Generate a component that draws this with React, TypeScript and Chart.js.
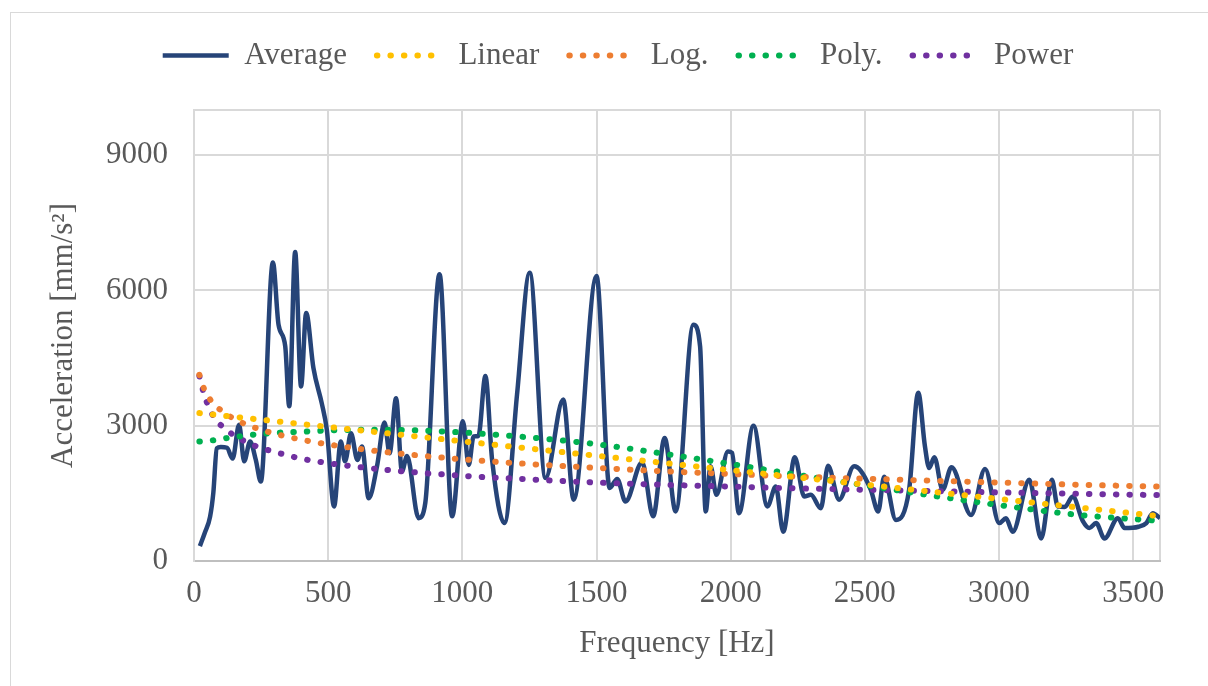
import { useEffect, useRef } from 'react';
import { Chart, registerables } from 'chart.js';

Chart.register(...registerables);

// Average spectrum (Hz, mm/s²)
const avgFreq = [22, 40, 60, 72, 85, 100, 123, 144, 168, 187, 209, 230, 249, 294, 315, 340, 355, 377, 399, 418, 445, 476, 495, 522, 547, 563, 585, 609, 626, 651, 682, 710, 729, 753, 775, 794, 837, 862, 915, 962, 1002, 1024, 1042, 1060, 1086, 1111, 1157, 1204, 1251, 1310, 1376, 1415, 1500, 1549, 1577, 1608, 1670, 1711, 1754, 1795, 1861, 1886, 1907, 1925, 1947, 1990, 2005, 2031, 2085, 2137, 2168, 2196, 2239, 2274, 2299, 2336, 2363, 2404, 2460, 2485, 2522, 2550, 2572, 2616, 2665, 2699, 2724, 2740, 2759, 2790, 2823, 2896, 2948, 3001, 3026, 3051, 3113, 3157, 3197, 3219, 3245, 3275, 3312, 3337, 3362, 3393, 3443, 3468, 3520, 3549, 3573, 3600];
const avgAccel = [330, 620, 985, 1510, 2500, 2530, 2510, 2270, 3020, 2210, 2650, 2250, 1760, 6620, 5240, 4760, 3430, 6850, 3870, 5500, 4280, 3500, 2910, 1210, 2650, 2210, 2830, 2240, 2540, 1390, 2100, 3070, 2390, 3610, 1990, 2330, 950, 1290, 6360, 990, 3100, 2130, 2760, 2770, 4100, 2240, 840, 3700, 6390, 1840, 3580, 1360, 6320, 1620, 1820, 1320, 2190, 990, 2730, 1100, 5240, 4760, 1100, 2100, 1470, 2430, 2400, 1060, 3000, 1210, 1650, 650, 2300, 1430, 1470, 1170, 2110, 1360, 2100, 2000, 1580, 1100, 1870, 910, 1580, 3730, 2540, 2060, 2300, 1580, 2080, 1020, 2040, 840, 950, 650, 1800, 500, 1800, 1210, 1200, 1430, 890, 730, 840, 500, 950, 730, 760, 840, 1060, 950];

// Trend lines, read at these frequencies
const trendFreq = [20, 40, 70, 110, 160, 220, 300, 400, 500, 700, 1000, 1250, 1500, 1750, 2000, 2250, 2500, 2750, 3000, 3300, 3600];
const linearTrend = [3280, 3267, 3248, 3222, 3190, 3152, 3101, 3037, 2973, 2845, 2654, 2494, 2334, 2175, 2015, 1855, 1695, 1536, 1376, 1184, 992];
const logTrend = [4130, 3780, 3510, 3300, 3120, 2970, 2825, 2690, 2585, 2425, 2255, 2150, 2065, 1990, 1930, 1870, 1825, 1780, 1740, 1690, 1650];
const polyTrend = [2650, 2660, 2675, 2715, 2755, 2800, 2840, 2865, 2895, 2910, 2850, 2740, 2590, 2380, 2150, 1910, 1680, 1450, 1240, 1020, 890];
const powerTrend = [4100, 3650, 3230, 2960, 2750, 2570, 2420, 2270, 2170, 2030, 1890, 1810, 1740, 1690, 1650, 1610, 1580, 1550, 1520, 1490, 1460];

const xTicks = [0, 500, 1000, 1500, 2000, 2500, 3000, 3500, 3600];
const yTicks = [0, 3000, 6000, 9000, 10000];

const TEXT = '#595959';
const GRID = '#D9D9D9';
const FONT = '"Liberation Serif", "Times New Roman", serif';

export default function App() {
  const ref = useRef<HTMLCanvasElement>(null);

  useEffect(() => {
    const canvas = ref.current;
    if (!canvas) return;
    Chart.defaults.font.family = FONT;
    Chart.defaults.color = TEXT;

    const pts = (xs: number[], ys: number[]) => xs.map((x, i) => ({ x, y: ys[i] }));
    const trend = (label: string, color: string, ys: number[], order: number) => ({
      label,
      data: pts(trendFreq, ys),
      borderColor: color,
      backgroundColor: color,
      borderWidth: 6,
      borderDash: [0.5, 13],
      borderCapStyle: 'round' as const,
      pointRadius: 0,
      cubicInterpolationMode: 'monotone' as const,
      order,
    });

    const chart = new Chart(canvas, {
      type: 'line',
      data: {
        datasets: [
          {
            label: 'Average',
            data: pts(avgFreq, avgAccel),
            borderColor: '#264478',
            backgroundColor: '#264478',
            borderWidth: 4.5,
            pointRadius: 0,
            cubicInterpolationMode: 'monotone',
            borderJoinStyle: 'round',
            order: 10,
          },
          trend('Linear', '#FFC000', linearTrend, 1),
          trend('Log.', '#ED7D31', logTrend, 2),
          trend('Poly.', '#00B050', polyTrend, 3),
          trend('Power', '#7030A0', powerTrend, 4),
        ] as any,
      },
      options: {
        responsive: false,
        animation: false,
        events: [],
        layout: { padding: { left: 28, top: 10, right: 0, bottom: 0 } },
        scales: {
          x: {
            type: 'linear',
            min: 0,
            max: 3600,
            afterBuildTicks: (s: any) => {
              s.ticks = xTicks.map((v) => ({ value: v }));
            },
            afterFit: (s: any) => {
              s.height = 125;
            },
            ticks: {
              autoSkip: false,
              maxRotation: 0,
              padding: 14,
              color: TEXT,
              font: { size: 31 },
              callback: (v: any) => (v === 3600 ? '' : String(v)),
            },
            grid: { color: GRID, lineWidth: 2, drawTicks: false },
            border: { color: '#BFBFBF', width: 2 },
            title: {
              display: true,
              text: 'Frequency [Hz]',
              color: TEXT,
              font: { size: 31 },
              padding: { top: 0, bottom: 24 },
            },
          },
          y: {
            type: 'linear',
            min: 0,
            max: 10000,
            afterBuildTicks: (s: any) => {
              s.ticks = yTicks.map((v) => ({ value: v }));
            },
            afterFit: (s: any) => {
              s.width = 166;
            },
            ticks: {
              padding: 26,
              color: TEXT,
              font: { size: 31 },
              callback: (v: any) => (v === 10000 ? '' : String(v)),
            },
            grid: { color: GRID, lineWidth: 2, drawTicks: false },
            border: { color: GRID, width: 2 },
            title: {
              display: true,
              text: 'Acceleration [mm/s²]',
              color: TEXT,
              font: { size: 31 },
              padding: { top: 17, bottom: 0 },
            },
          },
          r: {
            type: 'linear',
            position: 'right',
            display: true,
            grid: { display: false },
            ticks: { display: false },
            border: { display: false },
            afterFit: (s: any) => {
              s.width = 48;
            },
          },
        },
        plugins: {
          legend: {
            position: 'top',
            labels: {
              usePointStyle: true,
              pointStyle: 'line',
              pointStyleWidth: 66,
              padding: 30,
              color: TEXT,
              font: { size: 31 },
              generateLabels: (c: any) =>
                c.data.datasets.map((ds: any, i: number) => ({
                  text: ds.label,
                  datasetIndex: i,
                  fillStyle: ds.borderColor,
                  strokeStyle: ds.borderColor,
                  fontColor: TEXT,
                  lineWidth: ds.borderWidth,
                  lineDash: ds.borderDash || [],
                  lineCap: ds.borderCapStyle || 'butt',
                  pointStyle: 'line',
                  hidden: false,
                })),
            },
          },
          title: {
            display: true,
            text: '',
            weight: 500,
            font: { size: 10 },
            padding: { top: 0, bottom: 17 },
          } as any,
          tooltip: { enabled: false },
        },
      } as any,
    });

    return () => chart.destroy();
  }, []);

  return (
    <div
      style={{
        position: 'fixed',
        left: 0,
        top: 0,
        width: 1208,
        height: 686,
        overflow: 'hidden',
        background: '#fff',
      }}
    >
      <div
        style={{
          position: 'absolute',
          left: 10,
          top: 12,
          width: 1400,
          height: 900,
          border: '1px solid #D9D9D9',
        }}
      />
      <canvas
        ref={ref}
        width={1208}
        height={686}
        style={{ position: 'absolute', left: 0, top: 0 }}
      />
    </div>
  );
}
